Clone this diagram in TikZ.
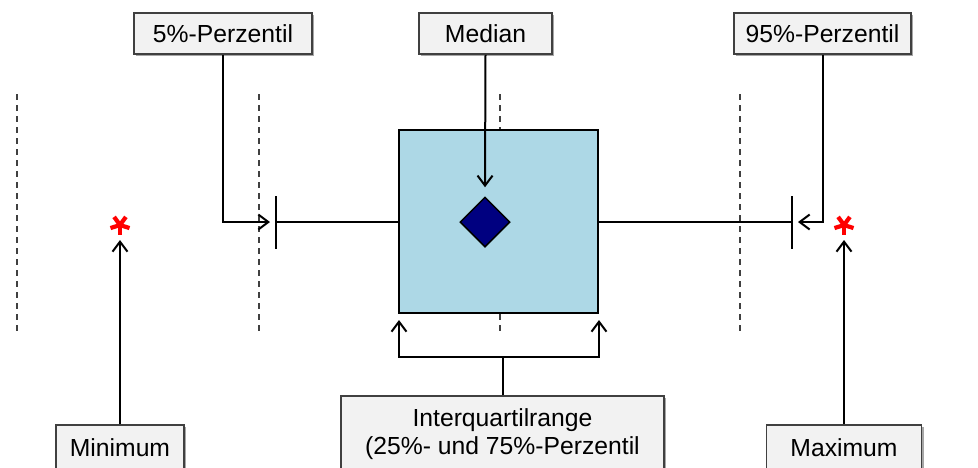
\documentclass[tikz,border=0pt]{standalone}
\usepackage{fontspec}
\setmainfont{Liberation Sans}
\usetikzlibrary{arrows.meta,shapes.geometric,shadows}
\definecolor{labelfill}{HTML}{F2F2F2}
\definecolor{labeldraw}{HTML}{404040}
\definecolor{iqrfill}{HTML}{ADD8E6}
\definecolor{medfill}{HTML}{000080}
\definecolor{guide}{HTML}{404040}
\begin{document}
\begin{tikzpicture}[x=1pt,y=-1pt,
  labelbox/.style={draw=labeldraw,fill=labelfill,line width=1.5pt,
    minimum height=41pt,inner sep=0pt,
    font=\fontsize{24.7}{28}\selectfont,
    drop shadow={shadow xshift=2pt,shadow yshift=-2pt,opacity=0.35,fill=black}},
  arr/.style={line width=2pt,-{Straight Barb[length=10pt,width=15pt]}},
  conn/.style={line width=2pt},
  guideline/.style={guide,line width=1.2pt,dash pattern=on 6pt off 5pt},
  whisker/.style={line width=2pt},
  outlier/.style={red,line width=4.2pt}]
\useasboundingbox (0,0) rectangle (978,467);
\clip (0,0) rectangle (978,467);

% vertical guide lines
\foreach \gx in {17,259,500,740}
  \draw[guideline] (\gx,94) -- (\gx,332);

% interquartile box and median marker
\node[draw=black,fill=iqrfill,line width=2pt,minimum width=199pt,
      minimum height=183pt,inner sep=0pt] (box) at (498.5,221.5) {};
\node[diamond,draw=black,fill=medfill,line width=1.5pt,minimum width=50pt,
      minimum height=50pt,inner sep=0pt] (dia) at (485,222) {};

% whiskers
\coordinate (capL) at (276,222);
\coordinate (capLt) at (276,196);
\coordinate (capLb) at (276,249);
\coordinate (capR) at (792,222);
\coordinate (capRt) at (792,196);
\coordinate (capRb) at (792,249);
\draw[whisker] (box.west |- capL) -- (capL);
\draw[whisker] (capLt) -- (capLb);
\draw[whisker] (box.east |- capR) -- (capR);
\draw[whisker] (capRt) -- (capRb);

% outliers (five-armed asterisks)
\coordinate (starL) at (120,225);
\coordinate (starR) at (844,225);
\foreach \s in {starL,starR}
  \foreach \a in {90,162,234,306,18}
    \draw[outlier] (\s) -- ++(\a:-10pt);

% labels
\node[labelbox,minimum width=178pt] (p5) at (223,33.5) {5\%-Perzentil};
\node[labelbox,minimum width=133pt] (med) at (485.5,33.5) {Median};
\node[labelbox,minimum width=177pt] (p95) at (822.5,33.5) {95\%-Perzentil};
\node[labelbox,minimum width=128pt,minimum height=46pt] (mini) at (120,448) {Minimum};
\node[labelbox,minimum width=155pt,minimum height=46pt] (maxi) at (844,448) {Maximum};
\node[labelbox,minimum width=323pt,minimum height=76pt,align=center]
  (iqr) at (502.5,434) {Interquartilrange\\(25\%- und 75\%-Perzentil};

% connectors
\draw[arr] (p5.south) |- ([xshift=-6pt]capL);
\draw[arr] (med.south) -- ([yshift=9pt]dia.north);
\draw[arr] (p95.south) |- ([xshift=6pt]capR);
\draw[arr] (mini.north) -- ([yshift=-15pt]starL);
\draw[arr] (maxi.north) -- ([yshift=-15pt]starR);
\coordinate (fork) at (502.5,357);
\draw[conn] (iqr.north) -- (fork);
\draw[arr] (fork) -| ([xshift=1pt,yshift=-6pt]box.south west);
\draw[arr] (fork) -| ([yshift=-6pt]box.south east);
\end{tikzpicture}
\end{document}
